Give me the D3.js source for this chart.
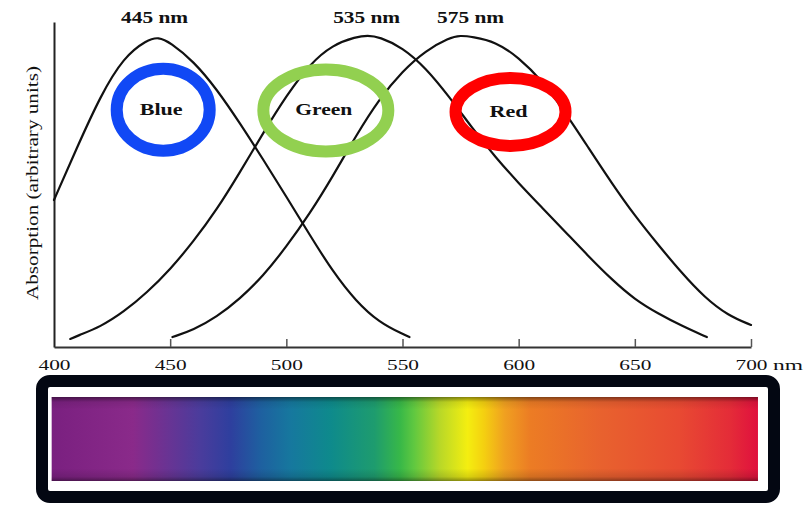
<!DOCTYPE html>
<html>
<head>
<meta charset="utf-8">
<script src="https://cdn.jsdelivr.net/npm/d3@7"></script>
<style>
  html, body { margin: 0; padding: 0; background: #fff; }
  svg { display: block; }
  text { font-family: "Liberation Serif", "Times New Roman", serif; fill: #111; }
</style>
</head>
<body>
<svg id="chart" width="810" height="505"></svg>
<script>
// ---------- data ----------
const blueNm  = [400,410,420,430,440,445,450,460,470,480,490,500,510,520,530,540,550,553];
const blueAbs = [0.474,0.645,0.81,0.935,0.99,1.0,0.982,0.922,0.832,0.722,0.605,0.485,0.362,0.243,0.147,0.079,0.042,0.032];

const greenNm  = [407,410,420,430,440,450,460,470,480,490,500,510,520,530,535,540,550,560,570,580,590,600,610,620,630,640,650,660,670,681];
const greenAbs = [0.026,0.036,0.065,0.113,0.175,0.25,0.34,0.442,0.563,0.69,0.81,0.912,0.975,1.0,1.005,1.0,0.966,0.9,0.808,0.706,0.612,0.528,0.45,0.372,0.293,0.218,0.153,0.108,0.069,0.032];

const redNm  = [451,460,470,480,490,500,510,520,530,540,550,560,570,575,580,590,600,610,620,630,640,650,660,670,680,690,700];
const redAbs = [0.032,0.055,0.097,0.155,0.229,0.323,0.429,0.55,0.682,0.8,0.89,0.956,0.997,1.005,1.0,0.985,0.934,0.86,0.757,0.643,0.529,0.423,0.33,0.24,0.16,0.102,0.071];

const peakNm     = [445, 535, 575];
const peakLabels = ["445 nm", "535 nm", "575 nm"];

const coneLabels = ["Blue", "Green", "Red"];
const coneNm     = [447, 517, 596.5];
const coneAbs    = [0.765, 0.763, 0.758];
const coneColors = ["#1148f5", "#92d050", "#ff0000"];

const tickValues = [400, 450, 500, 550, 600, 650, 700];

const spectrumNm    = [399, 434, 463, 476, 489, 502, 519, 538, 549, 555, 566, 578, 585, 594, 605, 635, 669, 691, 703];
const spectrumColor = ["#7a2080","#8a2a8a","#4a3c9c","#2e3f9e","#1e60a0","#16789e","#0e8a8c","#1e9c6e","#38b848","#60c840","#b8d828","#f4ee10","#f4d010","#f0a020","#ec7c24","#e8622e","#e84a32","#e42c38","#e0103e"];

// ---------- layout ----------
const svg = d3.select("#chart");
const x = d3.scaleLinear().domain([400, 700]).range([54, 751]);
const y = d3.scaleLinear().domain([0, 1.048]).range([347, 22]);

// y axis (plain line)
const yAxis = d3.axisLeft(y).tickValues([]).tickSizeOuter(0);
svg.append("g").attr("transform", "translate(54,0)").call(yAxis)
  .call(g => g.select(".domain").attr("stroke", "#222").attr("stroke-width", 2));

// x axis
const xAxis = d3.axisBottom(x).tickValues(tickValues).tickSizeInner(-8).tickSizeOuter(0)
  .tickPadding(12).tickFormat(d3.format("d"));
const gx = svg.append("g").attr("transform", "translate(0,347)").call(xAxis);
gx.select(".domain").attr("stroke", "#333").attr("stroke-width", 2);
gx.selectAll(".tick line").attr("stroke", "#555").attr("stroke-width", 1.5)
  .attr("opacity", d => d === 400 ? 0 : 1);
gx.selectAll(".tick text")
  .style("font-family", "'Liberation Serif', serif").style("font-size", "15px").attr("fill", "#111")
  .attr("textLength", 32).attr("lengthAdjust", "spacingAndGlyphs");
svg.append("text").attr("x", x(700) + 22).attr("y", 370)
  .style("font-size", "15px").attr("textLength", 30).attr("lengthAdjust", "spacingAndGlyphs")
  .text("nm");

// y label
svg.append("text")
  .attr("transform", "translate(38,183) rotate(-90)")
  .attr("text-anchor", "middle")
  .style("font-size", "17px")
  .attr("textLength", 234).attr("lengthAdjust", "spacingAndGlyphs")
  .text("Absorption (arbitrary units)");

// curves
const line = d3.line().x(d => x(d[0])).y(d => y(d[1])).curve(d3.curveBasis);
[[blueNm, blueAbs], [greenNm, greenAbs], [redNm, redAbs]].forEach(([nm, ab]) => {
  svg.append("path")
    .datum(nm.map((n, i) => [n, ab[i]]))
    .attr("d", line)
    .attr("fill", "none")
    .attr("stroke", "#111")
    .attr("stroke-width", 2.2)
    .attr("stroke-linecap", "round");
});

// peak labels
const peakDx = [-4, -1, 10];
svg.selectAll(".peak").data(peakNm).enter().append("text")
  .attr("class", "peak")
  .attr("x", (d, i) => x(d) + peakDx[i])
  .attr("y", 23)
  .attr("text-anchor", "middle")
  .style("font-size", "16px").style("font-weight", "bold")
  .attr("textLength", 67).attr("lengthAdjust", "spacingAndGlyphs")
  .text((d, i) => peakLabels[i]);

// cone ellipses
const rx = [46.5, 62.5, 55], ry = [41, 41, 34], tl = [43, 57, 38];
coneLabels.forEach((lab, i) => {
  svg.append("ellipse")
    .attr("cx", x(coneNm[i])).attr("cy", y(coneAbs[i]))
    .attr("rx", rx[i]).attr("ry", ry[i])
    .attr("fill", "none").attr("stroke", coneColors[i]).attr("stroke-width", 12);
  svg.append("text")
    .attr("x", x(coneNm[i]) - 2).attr("y", y(coneAbs[i]) + 5)
    .attr("text-anchor", "middle")
    .style("font-size", "16px").style("font-weight", "bold")
    .attr("textLength", tl[i]).attr("lengthAdjust", "spacingAndGlyphs")
    .text(lab);
});

// spectrum band (gradient built from the spectrum arrays via the x scale)
const bandTop = 397, bandBottom = 481;
const defs = svg.append("defs");
const x0 = x(spectrumNm[0]), x1 = x(spectrumNm[spectrumNm.length - 1]);
const hg = defs.append("linearGradient").attr("id", "spec")
  .attr("gradientUnits", "userSpaceOnUse")
  .attr("x1", x0).attr("x2", x1).attr("y1", 0).attr("y2", 0);
hg.selectAll("stop").data(spectrumNm).enter().append("stop")
  .attr("offset", d => (x(d) - x0) / (x1 - x0))
  .attr("stop-color", (d, i) => spectrumColor[i]);

const vg = defs.append("linearGradient").attr("id", "shade").attr("x1", 0).attr("x2", 0).attr("y1", 0).attr("y2", 1);
[[0, 0.45], [0.06, 0.08], [0.15, 0], [0.85, 0], [0.95, 0.12], [1, 0.4]].forEach(([o, a]) => {
  vg.append("stop").attr("offset", o).attr("stop-color", "#000").attr("stop-opacity", a);
});

svg.append("rect")
  .attr("x", x0).attr("y", bandTop)
  .attr("width", x1 - x0).attr("height", bandBottom - bandTop)
  .attr("fill", "url(#spec)");
svg.append("rect")
  .attr("x", x0).attr("y", bandTop)
  .attr("width", x1 - x0).attr("height", bandBottom - bandTop)
  .attr("fill", "url(#shade)");

// black frame
svg.append("rect")
  .attr("x", 42).attr("y", 381).attr("width", 732).attr("height", 116)
  .attr("rx", 8).attr("ry", 8)
  .attr("fill", "none").attr("stroke", "#030712").attr("stroke-width", 12);
</script>
</body>
</html>
